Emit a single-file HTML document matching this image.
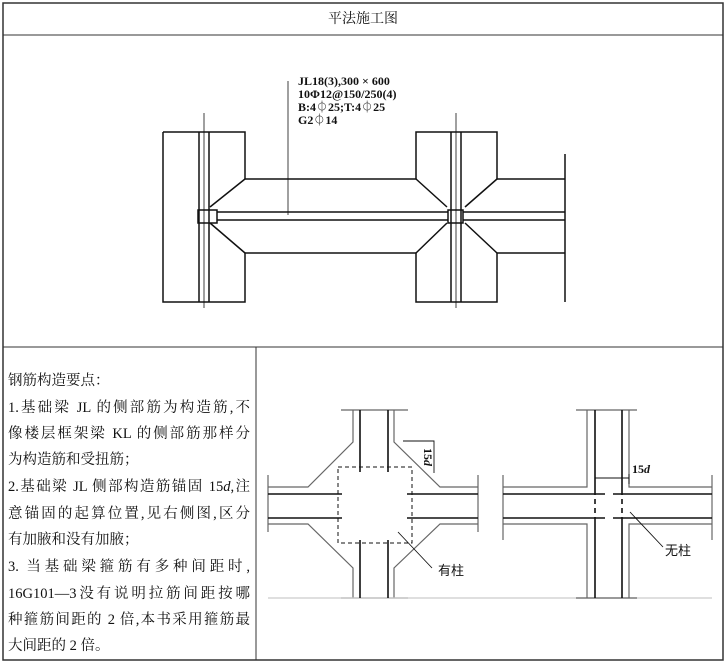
<!DOCTYPE html>
<html><head><meta charset="utf-8"><style>
body{margin:0;width:727px;height:665px;background:#fff;overflow:hidden}
.t{position:absolute;left:8px;width:242px;font:14.5px "Liberation Serif","Noto Serif CJK SC",serif;text-align:justify;text-align-last:justify;white-space:nowrap;line-height:20px;color:#111}
</style></head><body>
<svg width="727" height="665" style="position:absolute;left:0;top:0" font-family="Liberation Serif,Noto Serif CJK SC,serif">
<g fill="none" stroke="#333" stroke-width="1.5">
<rect x="3" y="3" width="720" height="657"/>
<line x1="3" y1="35" x2="723" y2="35" stroke-width="1"/>
<line x1="3" y1="347" x2="723" y2="347" stroke-width="1"/>
<line x1="256" y1="347" x2="256" y2="660" stroke-width="1"/>
</g>
<text x="363" y="23" font-size="14" text-anchor="middle" fill="#111" font-family="Noto Serif CJK SC,serif">平法施工图</text>
<g fill="none" stroke="#111" stroke-width="1.5">
<path d="M163,132 H245 V179 H416 V132 H497 V179 H565"/>
<path d="M163,132 V302 H245 V253 H416 V302 H497 V253 H565"/>
<line x1="565" y1="154" x2="565" y2="302"/>
<path d="M245,179 L210,207 M245,253 L210,223 M416,179 L447,207 M497,179 L465,207 M416,253 L447,223 M497,253 L465,223"/>
<line x1="199" y1="132" x2="199" y2="302"/><line x1="209" y1="132" x2="209" y2="302"/>
<line x1="451" y1="132" x2="451" y2="302"/><line x1="461" y1="132" x2="461" y2="302"/>
<line x1="217" y1="212" x2="448" y2="212"/><line x1="217" y1="220" x2="448" y2="220"/>
<line x1="463" y1="212" x2="565" y2="212"/><line x1="463" y1="220" x2="565" y2="220"/>
<rect x="198" y="210" width="19" height="13"/><rect x="448" y="210" width="15" height="13"/>
</g>
<g stroke="#111" stroke-width="0.8">
<line x1="204" y1="113" x2="204" y2="308"/><line x1="456" y1="113" x2="456" y2="308"/>
<line x1="288" y1="81" x2="288" y2="215"/>
</g>
<g font-size="12" font-weight="bold" fill="#111">
<text x="298" y="85">JL18(3),300 × 600</text>
<text x="298" y="98">10Φ12@150/250(4)</text>
<text x="298" y="111">B:4⏀25;T:4⏀25</text>
<text x="298" y="124">G2⏀14</text>
</g>
<g fill="none" stroke="#666" stroke-width="1.2">
<line x1="341" y1="410" x2="408" y2="410"/><line x1="341" y1="598" x2="408" y2="598"/>
<path d="M353,410 V442 L308,487 H268 M394,410 V442 L440,487 H478 M268,524 H308 L353,568 V598 M478,524 H440 L394,568 V598"/>
<line x1="268" y1="475" x2="268" y2="532"/><line x1="478" y1="475" x2="478" y2="532"/>
<line x1="268" y1="598" x2="712" y2="598" stroke="#ccc"/>
<line x1="576" y1="410" x2="637" y2="410"/><line x1="576" y1="598" x2="637" y2="598"/>
<path d="M587,410 V487 H503 M629,410 V487 H712 M503,524 H587 V598 M712,524 H629 V598"/>
<line x1="503" y1="475" x2="503" y2="540"/><line x1="712" y1="475" x2="712" y2="540"/>
</g>
<g fill="none" stroke="#111" stroke-width="1.6">
<path d="M360,410 V472 M388,410 V472 M360,540 V598 M388,540 V598 M268,494 H342 M268,518 H342 M407,494 H478 M407,518 H478"/>
<path d="M595,410 V490 M622,410 V490 M595,522 V598 M622,522 V598 M503,494 H605 M503,518 H605 M613,494 H712 M613,518 H712"/>
<path d="M595,490 V522 M622,490 V522" stroke-dasharray="5,4"/>
</g>
<rect x="338" y="467" width="74" height="76" fill="none" stroke="#111" stroke-width="1" stroke-dasharray="4,3"/>
<g stroke="#111" stroke-width="0.9" fill="none">
<path d="M403,441 H434 V473 M398,532 L432,568 M595,478 H629 M595,474 V484 M629,474 V484 M630,512 L663,547"/>
</g>
<text transform="translate(424,457) rotate(90)" font-size="12" font-weight="bold" text-anchor="middle" fill="#111">15<tspan font-style="italic">d</tspan></text>
<text x="632" y="473" font-size="12" font-weight="bold" fill="#111">15<tspan font-style="italic">d</tspan></text>
<text x="438" y="575" font-size="13" fill="#111" font-family="Noto Sans CJK SC,sans-serif">有柱</text>
<text x="665" y="555" font-size="13" fill="#111" font-family="Noto Sans CJK SC,sans-serif">无柱</text>
</svg>
<div class="t" style="top:371px;text-align-last:left">钢筋构造要点：</div>
<div class="t" style="top:398px">1.基础梁 JL 的侧部筋为构造筋,不</div>
<div class="t" style="top:424px">像楼层框架梁 KL 的侧部筋那样分</div>
<div class="t" style="top:450px;text-align-last:left">为构造筋和受扭筋；</div>
<div class="t" style="top:477px">2.基础梁 JL 侧部构造筋锚固 15<i>d</i>,注</div>
<div class="t" style="top:504px">意锚固的起算位置,见右侧图,区分</div>
<div class="t" style="top:530px;text-align-last:left">有加腋和没有加腋；</div>
<div class="t" style="top:557px">3. 当基础梁箍筋有多种间距时,</div>
<div class="t" style="top:584px">16G101—3没有说明拉筋间距按哪</div>
<div class="t" style="top:610px">种箍筋间距的 2 倍,本书采用箍筋最</div>
<div class="t" style="top:636px;text-align-last:left">大间距的 2 倍。</div>
</body></html>
